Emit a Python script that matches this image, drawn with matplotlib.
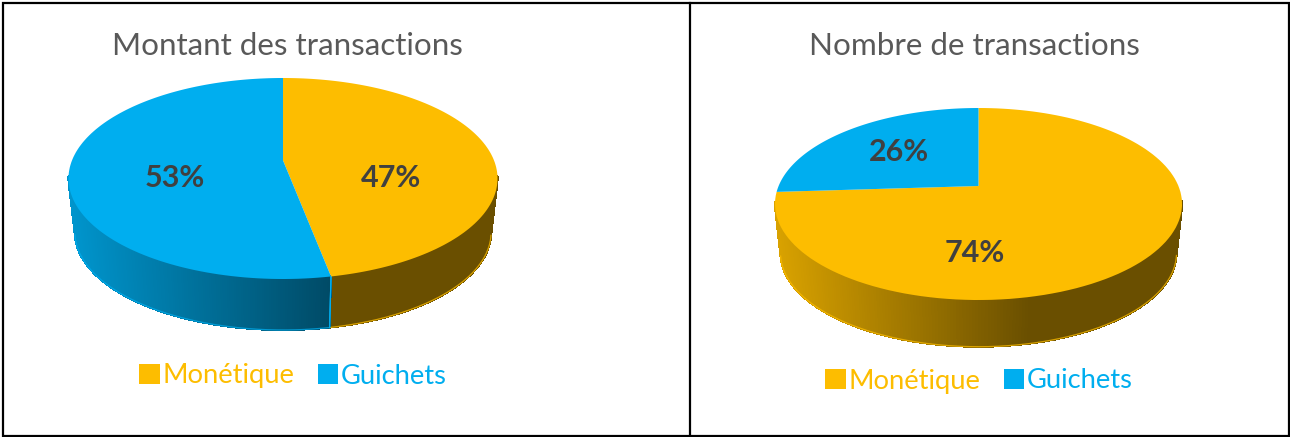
import numpy as np
import matplotlib
matplotlib.use("Agg")
import matplotlib.pyplot as plt
from matplotlib.collections import PolyCollection
from matplotlib.lines import Line2D
from matplotlib.patches import Rectangle
from matplotlib.path import Path
from matplotlib.transforms import Transform

# ---- data ----
categories = ["Monétique", "Guichets"]
titles = ["Montant des transactions", "Nombre de transactions"]
montant_values = [47, 53]
nombre_values = [74, 26]

# ---- style / layout (pixels of the 1290x437 canvas) ----
W, H = 1290, 437
YELLOW, BLUE = "#FDBD00", "#00AEEF"
colors = [YELLOW, BLUE]
plt.rcParams["font.family"] = ["Lato", "DejaVu Sans"]

panels = [
    dict(values=montant_values, title=titles[0], cx=283, cy=178.5, rx=214.5, ry=100.5,
         apex=0.18, scale=0.97, drop=54, title_xy=(287, 46),
         label_xy=[(391, 178), (175, 178)], legend_xy=(293, 376)),
    dict(values=nombre_values, title=titles[1], cx=978.5, cy=204, rx=203.5, ry=96,
         apex=0.1875, scale=0.973, drop=49.3, title_xy=(974, 46),
         label_xy=[(975, 253), (899, 152)], legend_xy=(979, 381)),
]


class Tilt(Transform):
    """Perspective of the unit disc: it stays a disc, its centre moves back."""
    input_dims = output_dims = 2
    is_separable = False
    has_inverse = False

    def __init__(self, a):
        super().__init__()
        self.a = a

    def transform_non_affine(self, values):
        values = np.asarray(values, dtype=float)
        u, v = values[:, 0], values[:, 1]
        d = 1 + self.a * v
        return np.column_stack((u * np.sqrt(1 - self.a ** 2) / d, (v + self.a) / d))


def shade(color, u):
    """Side-wall shading, read from the darkening left to right."""
    f = np.interp(u, [-1.0, 0.25, 1.0], [0.86, 0.42, 0.42])
    return tuple(c * f for c in matplotlib.colors.to_rgb(color))


def px(x, y):
    return x / W, 1 - y / H


fig = plt.figure(figsize=(W / 100, H / 100), dpi=100, facecolor="white")

for p in panels:
    left = p["cx"] - 1.25 * p["rx"]
    bottom = H - (p["cy"] + 1.25 * p["ry"])
    ax = fig.add_axes([left / W, bottom / H, 2.5 * p["rx"] / W, 2.5 * p["ry"] / H])
    wedges, _ = ax.pie(p["values"], colors=colors, startangle=90, counterclock=False,
                       radius=1, wedgeprops=dict(linewidth=0))
    ax.set_aspect("auto")
    ax.set_xlim(-1.25, 1.25)
    ax.set_ylim(-1.25, 1.25)
    tilt = Tilt(p["apex"])
    off = p["drop"] / p["ry"]

    for w, col in zip(wedges, colors):
        w._path = Path.wedge(w.theta1, w.theta2, n=64)
        w.set_transform(tilt + ax.transData)
        w.set_zorder(3)

        t = np.radians(np.linspace(w.theta1, w.theta2, 361))
        top = tilt.transform_non_affine(np.column_stack((np.cos(t), np.sin(t))))
        low = top * p["scale"] + np.array([0, -off])
        polys, fcs = [], []
        for i in range(len(t) - 1):
            if top[i, 1] > 0.02 and top[i + 1, 1] > 0.02:
                continue  # back of the disc: hidden by the top face
            polys.append([top[i], top[i + 1], low[i + 1], low[i]])
            fcs.append(shade(col, 0.5 * (top[i, 0] + top[i + 1, 0])))
        ax.add_collection(PolyCollection(polys, facecolors=fcs, edgecolors=fcs,
                                         linewidths=0.8, antialiaseds=False,
                                         zorder=1, clip_on=False),
                          autolim=False)
        # lighter fringe along the lower rim, as in the reference
        front = low[:, 1] < -off - 0.02
        ax.plot(low[front, 0], low[front, 1], color=col, lw=0.9, alpha=0.75,
                zorder=1.5, clip_on=False)
        # seam of the wedge on the wall, only where the boundary faces the viewer
        for k in (0, -1):
            if top[k, 1] < -0.3:
                ax.plot([top[k, 0], low[k, 0]], [top[k, 1], low[k, 1]], color=BLUE, lw=0.9,
                        zorder=1.6, clip_on=False)

    fig.text(*px(*p["title_xy"]), p["title"], ha="center", va="center",
             fontsize=22.6, color="#595959")
    for xy, v in zip(p["label_xy"], p["values"]):
        fig.text(*px(*xy), f"{v}%", ha="center", va="center", fontsize=22,
                 fontweight="bold", color="#404040", zorder=10)
    fig.legend(wedges, categories, loc="center", bbox_to_anchor=px(*p["legend_xy"]),
               bbox_transform=fig.transFigure, ncol=2, frameon=False, fontsize=19.7,
               labelcolor=colors, handlelength=0.76, handleheight=0.76, handletextpad=0.1,
               columnspacing=0.85, borderpad=0, borderaxespad=0)

# panel frames
fig.add_artist(Rectangle(px(3, 436), (1289 - 3) / W, (436 - 3) / H, transform=fig.transFigure,
                         fill=False, edgecolor="black", linewidth=1.6))
fig.add_artist(Line2D([690 / W, 690 / W], [1 - 3 / H, 1 - 436 / H], transform=fig.transFigure,
                      color="black", linewidth=1.6))

fig.savefig("out.png", dpi=100, facecolor="white")
